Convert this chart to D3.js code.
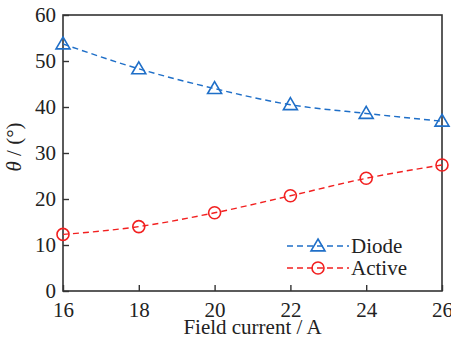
<!DOCTYPE html>
<html><head><meta charset="utf-8">
<script src="https://cdn.jsdelivr.net/npm/d3@7"></script>
<style>body{margin:0;background:#fff}svg{display:block}</style>
</head><body><svg id="c" width="451" height="339"></svg>
<script>
const fieldCurrent = [16, 18, 20, 22, 24, 26];
const diode = [53.7, 48.3, 44.0, 40.5, 38.6, 36.9];
const active = [12.3, 14.0, 17.0, 20.7, 24.5, 27.4];
const xTicks = [16, 18, 20, 22, 24, 26];
const yTicks = [0, 10, 20, 30, 40, 50, 60];
const seriesNames = ["Diode", "Active"];

const svg = d3.select("#c");
const L = 63, R = 442, T = 15, B = 291;
const x = d3.scaleLinear().domain([16, 26]).range([L, R]);
const y = d3.scaleLinear().domain([0, 60]).range([B, T]);
const blue = "#1f6fc8", red = "#f22020";
const FS = "21px";
const FF = "'Liberation Serif', 'Times New Roman', serif";

// frame
svg.append("rect").attr("x", L).attr("y", T).attr("width", R - L).attr("height", B - T)
  .attr("fill", "none").attr("stroke", "#333").attr("stroke-width", 1.6);

const xa = svg.append("g").attr("transform", `translate(0,${B})`)
  .call(d3.axisBottom(x).tickValues(xTicks).tickSize(-6).tickPadding(11).tickFormat(d3.format("d")));
const ya = svg.append("g").attr("transform", `translate(${L},0)`)
  .call(d3.axisLeft(y).tickValues(yTicks).tickSize(-6).tickPadding(7).tickFormat(d3.format("d")));
[xa, ya].forEach(a => {
  a.attr("font-family", null).attr("font-size", null);
  a.select(".domain").remove();
  a.selectAll(".tick line").attr("stroke", "#333").attr("stroke-width", 1.4);
  a.selectAll(".tick text").attr("fill", "#222").style("font-size", FS).style("font-family", FF);
});
xa.selectAll(".tick text").attr("dy", "0.71em");
ya.selectAll(".tick text").attr("dy", "0.32em");

const line = d3.line().x((d, i) => x(fieldCurrent[i])).y(d => y(d)).curve(d3.curveMonotoneX);
function draw(vals, col, marker) {
  svg.append("path").datum(vals).attr("d", line).attr("fill", "none")
    .attr("stroke", col).attr("stroke-width", 1.4).attr("stroke-dasharray", "6,4");
  const g = svg.append("g");
  vals.forEach((v, i) => drawMarker(g, x(fieldCurrent[i]), y(v), col, marker));
}
function drawMarker(g, cx, cy, col, marker) {
  if (marker === "tri") {
    const s = 7;
    g.append("path").attr("d", `M${cx},${cy - s}L${cx + s},${cy + s * 0.7}L${cx - s},${cy + s * 0.7}Z`)
      .attr("fill", "none").attr("stroke", col).attr("stroke-width", 1.6);
  } else {
    g.append("circle").attr("cx", cx).attr("cy", cy).attr("r", 6)
      .attr("fill", "none").attr("stroke", col).attr("stroke-width", 1.6);
  }
}
draw(diode, blue, "tri");
draw(active, red, "circ");

// legend
const leg = [{name: seriesNames[0], col: blue, m: "tri", yy: 246}, {name: seriesNames[1], col: red, m: "circ", yy: 268}];
leg.forEach(l => {
  svg.append("line").attr("x1", 287).attr("x2", 349).attr("y1", l.yy).attr("y2", l.yy)
    .attr("stroke", l.col).attr("stroke-width", 1.4).attr("stroke-dasharray", "6,4");
  drawMarker(svg, 318, l.yy, l.col, l.m);
  svg.append("text").attr("x", 351).attr("y", l.yy + 7).text(l.name)
    .style("font-size", FS).style("font-family", FF).attr("fill", "#222");
});

// axis labels
svg.append("text").attr("x", (L + R) / 2).attr("y", 334).attr("text-anchor", "middle")
  .style("font-size", FS).style("font-family", FF).attr("fill", "#222").text("Field current / A");
const yl = svg.append("text").attr("transform", `translate(21,147) rotate(-90)`)
  .attr("text-anchor", "middle").style("font-size", FS).style("font-family", FF).attr("fill", "#222");
yl.append("tspan").style("font-style", "italic").text("θ");
yl.append("tspan").text(" / (°)");
</script></body></html>
